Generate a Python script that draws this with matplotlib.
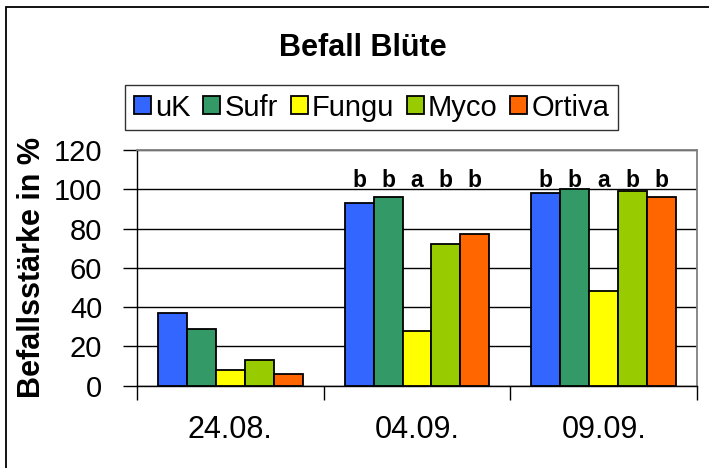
import numpy as np
import matplotlib
matplotlib.use("Agg")
import matplotlib.pyplot as plt
from matplotlib.patches import Rectangle

plt.rcParams['font.family'] = ['Liberation Sans', 'DejaVu Sans']

dates = ["24.08.", "04.09.", "09.09."]
series = ["uK", "Sufr", "Fungu", "Myco", "Ortiva"]
colors = ["#3366FF", "#339966", "#FFFF00", "#99CC00", "#FF6600"]
values = {
    "uK":     [37, 93, 98],
    "Sufr":   [29, 96, 100],
    "Fungu":  [8, 28, 48],
    "Myco":   [13, 72, 99],
    "Ortiva": [6, 77, 96],
}
letters = [None, ["b", "b", "a", "b", "b"], ["b", "b", "a", "b", "b"]]

fig = plt.figure(figsize=(7.09, 4.68), dpi=100)
ax = fig.add_axes([137/709, 82.3/468, 560/709, 235.7/468])

x = np.arange(len(dates))
w = 0.155
for i, s in enumerate(series):
    ax.bar(x + (i - 2) * w, values[s], w, color=colors[i], edgecolor="black",
           linewidth=1.3, label=s, zorder=3)

# Buchstaben ueber den Balken
for j, lab in enumerate(letters):
    if lab is None:
        continue
    for i, t in enumerate(lab):
        ax.text(x[j] + (i - 2) * w, 101, t, ha="center", va="baseline",
                fontsize=16.5, fontweight="bold", zorder=4)

ax.set_xlim(-0.5, 2.5)
ax.set_ylim(0, 120)
ax.set_yticks(np.arange(0, 121, 20))
ax.yaxis.grid(True, color="black", linewidth=1)
ax.set_axisbelow(True)
ax.set_xticks(x)
ax.set_xticklabels(dates)
ax.set_xticks([-0.5, 0.5, 1.5, 2.5], minor=True)
ax.tick_params(axis="x", which="major", length=0, pad=21, labelsize=22)
ax.tick_params(axis="x", which="minor", length=10, width=1, color="black")
ax.tick_params(axis="y", length=10, width=1, pad=15, labelsize=21)

for side in ["top", "right"]:
    ax.spines[side].set_color("#808080")
    ax.spines[side].set_linewidth(1.3)
for side in ["left", "bottom"]:
    ax.spines[side].set_color("black")
    ax.spines[side].set_linewidth(1)

fig.text(32/709, 1 - 268/468, "Befallsstärke in %", rotation=90, ha="center",
         va="center", fontsize=22, fontweight="bold")

fig.text(363/709, 1 - 56/468, "Befall Blüte", ha="center", va="baseline",
         fontsize=22, fontweight="bold")

leg = fig.legend(loc="center", bbox_to_anchor=(371.8/709, 1 - 107.5/468), ncol=5,
                 fontsize=21, frameon=True, fancybox=False, handlelength=0.58,
                 handleheight=0.58, handletextpad=0.15, columnspacing=0.43,
                 borderpad=0.3, borderaxespad=0)
leg.get_frame().set_edgecolor("black")
leg.get_frame().set_linewidth(1)

fig.patches.append(Rectangle((6/709, -0.1), 1.2, 1.1 - 7/468, transform=fig.transFigure,
                             fill=False, edgecolor="black", linewidth=1.3))

fig.savefig("out.png", dpi=100)
